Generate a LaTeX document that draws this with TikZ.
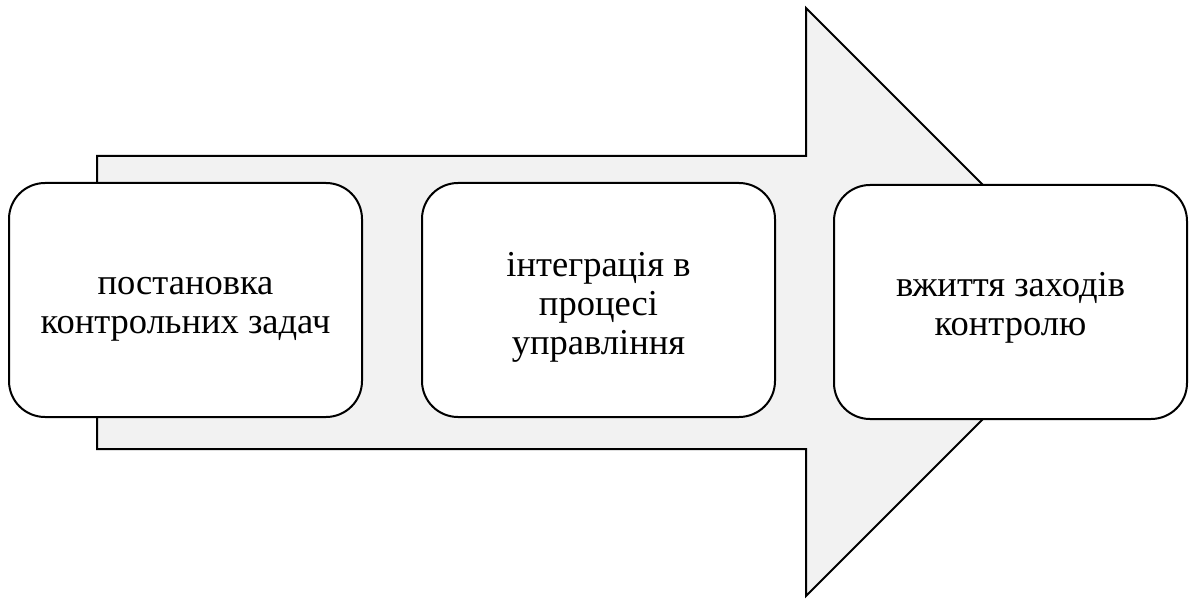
\documentclass[tikz,border=0pt]{standalone}
\usepackage{fontspec}
\setmainfont{Liberation Serif}
\begin{document}
\begin{tikzpicture}[x=1pt,y=-1pt,
  stagebox/.style={draw=black,line width=2pt,fill=white,rounded corners=36pt,
    minimum width=353pt,minimum height=234pt,inner sep=0pt},
  stagetext/.style={align=center,inner sep=0pt,
    font=\fontsize{36.5}{39}\selectfont},
  bigarrow/.style={draw=black,line width=2pt,fill=black!5,line join=miter}]
\useasboundingbox (0,0) rectangle (1195,599);
\coordinate (bl) at (97,156);
\coordinate (tip) at (1100,302);
\draw[bigarrow] (bl) -- (806,156) -- (806,8) -- (tip) -- (806,596) -- (806,449) -- (97,449) -- cycle;
\node[stagebox] (s1) at (185.5,300) {};
\node[stagebox] (s2) at (598.5,300) {};
\node[stagebox] (s3) at (1010.5,302) {};
\node[stagetext] (t1) at ([yshift=-9pt]s1.center) {постановка\\контрольних задач};
\node[stagetext] (t2) at ([yshift=-7pt]s2.center) {інтеграція в\\процесі\\управління};
\node[stagetext] (t3) at ([yshift=-6pt]s3.center) {вжиття заходів\\контролю};
\end{tikzpicture}
\end{document}
